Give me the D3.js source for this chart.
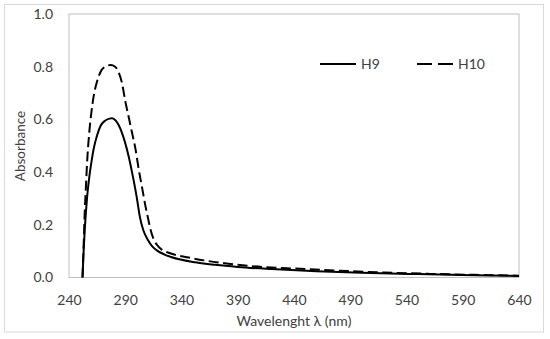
<!DOCTYPE html>
<html>
<head>
<meta charset="utf-8">
<script src="https://cdn.jsdelivr.net/npm/d3@7"></script>
<style>
  body { margin: 0; background: #fff; }
  text { font-family: Lato, "Open Sans", sans-serif; fill: #404040; }
</style>
</head>
<body>
<svg id="fig" width="550" height="339"></svg>
<script>
// values
const wlH9 = [252, 253, 254, 256, 258, 260, 262, 265, 268, 272, 276, 278, 281, 284, 287, 290, 293, 296, 300, 303, 306, 310, 314, 318, 325, 330, 340, 350, 370, 390, 420, 460, 500, 550, 600, 640];
const absH9 = [0.0, 0.10, 0.18, 0.30, 0.38, 0.44, 0.49, 0.54, 0.575, 0.595, 0.603, 0.604, 0.598, 0.58, 0.55, 0.51, 0.46, 0.40, 0.31, 0.23, 0.18, 0.143, 0.118, 0.103, 0.087, 0.079, 0.067, 0.059, 0.048, 0.040, 0.032, 0.024, 0.018, 0.013, 0.009, 0.006];

const wlH10 = [252, 253, 254, 255, 256, 258, 260, 262, 265, 268, 272, 277, 281, 284, 287, 290, 293, 296, 299, 302, 305, 308, 310, 312, 315, 318, 322, 326, 332, 345, 360, 380, 400, 440, 480, 520, 560, 600, 640];
const absH10 = [0.0, 0.12, 0.25, 0.34, 0.43, 0.55, 0.63, 0.69, 0.745, 0.78, 0.80, 0.806, 0.80, 0.78, 0.74, 0.67, 0.61, 0.55, 0.49, 0.41, 0.34, 0.27, 0.23, 0.19, 0.148, 0.125, 0.107, 0.098, 0.089, 0.077, 0.065, 0.053, 0.044, 0.034, 0.026, 0.019, 0.014, 0.010, 0.007];

const xTicks = [240, 290, 340, 390, 440, 490, 540, 590, 640];
const yTicks = [0.0, 0.2, 0.4, 0.6, 0.8, 1.0];

const seriesList = [
    { name: 'H9', wl: wlH9, abs: absH9, dash: null },
    { name: 'H10', wl: wlH10, abs: absH10, dash: '10,4.5' }
];

const svg = d3.select('#fig');

// outer chart border
svg.append('rect')
    .attr('x', 4.5).attr('y', 4.5)
    .attr('width', 539).attr('height', 327.5)
    .attr('fill', 'none')
    .attr('stroke', '#d9d9d9');

const plotL = 69, plotR = 519, plotT = 14, plotB = 277.5;

const xScale = d3.scaleLinear().domain([240, 640]).range([plotL, plotR]);
const yScale = d3.scaleLinear().domain([0, 1]).range([plotB, plotT]);

// plot area box
svg.append('rect')
    .attr('x', plotL).attr('y', plotT)
    .attr('width', plotR - plotL).attr('height', plotB - plotT)
    .attr('fill', 'none')
    .attr('stroke', '#bfbfbf');

const xAxis = d3.axisBottom(xScale)
    .tickValues(xTicks)
    .tickSize(0)
    .tickPadding(18)
    .tickFormat(d3.format('d'));
svg.append('g')
    .attr('transform', `translate(0,${plotB})`)
    .call(xAxis)
    .call(g => g.select('.domain').remove())
    .selectAll('text')
    .attr('font-size', 14)
    .style('font-family', 'Lato, sans-serif');

const yAxis = d3.axisLeft(yScale)
    .tickValues(yTicks)
    .tickSize(0)
    .tickPadding(16)
    .tickFormat(d3.format('.1f'));
svg.append('g')
    .attr('transform', `translate(${plotL},0)`)
    .call(yAxis)
    .call(g => g.select('.domain').remove())
    .selectAll('text')
    .attr('font-size', 14)
    .style('font-family', 'Lato, sans-serif');

svg.selectAll('.tick text').attr('fill', '#404040');

// lines
const lineGen = d3.line()
    .x(d => xScale(d[0]))
    .y(d => yScale(d[1]))
    .curve(d3.curveMonotoneX);

seriesList.forEach(s => {
    const pts = s.wl.map((w, i) => [w, s.abs[i]]);
    svg.append('path')
        .datum(pts)
        .attr('d', lineGen)
        .attr('fill', 'none')
        .attr('stroke', '#000')
        .attr('stroke-width', 2)
        .attr('stroke-dasharray', s.dash);
});

// legend
const legend = svg.append('g').attr('class', 'legend');
const legendPos = [{ x: 320, y: 64 }, { x: 417, y: 64 }];
seriesList.forEach((s, i) => {
    const p = legendPos[i];
    legend.append('line')
        .attr('x1', p.x).attr('x2', p.x + 36)
        .attr('y1', p.y).attr('y2', p.y)
        .attr('stroke', '#000')
        .attr('stroke-width', 2)
        .attr('stroke-dasharray', s.dash ? '15,6' : null);
    legend.append('text')
        .attr('x', p.x + 41)
        .attr('y', p.y + 5)
        .attr('font-size', 14)
        .text(s.name);
});

// axis titles
svg.append('text')
    .attr('x', 294).attr('y', 326)
    .attr('text-anchor', 'middle')
    .attr('font-size', 14)
    .text('Wavelenght λ (nm)');

svg.append('text')
    .attr('transform', 'translate(25,146) rotate(-90)')
    .attr('text-anchor', 'middle')
    .attr('font-size', 13.5)
    .text('Absorbance');
</script>
</body>
</html>
